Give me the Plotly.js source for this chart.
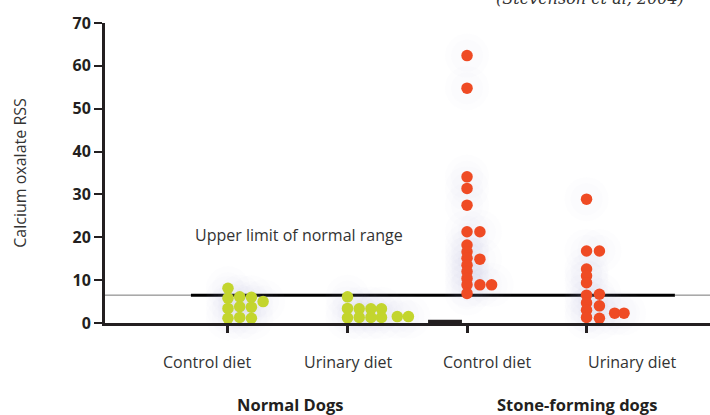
<!DOCTYPE html>
<html>
<head>
<meta charset="utf-8">
<script src="https://cdn.plot.ly/plotly-3.0.1.min.js"></script>
<style>html,body{margin:0;padding:0;background:#fff;}#chart{width:710px;height:415px;}</style>
</head>
<body>
<div id="chart"></div>
<script>
// Category positions (x axis units) and labels
const categoryPos = [1, 2, 3, 4];
const categoryLabels = ["Control diet", "Urinary diet", "Control diet", "Urinary diet"];
const groupLabels = ["Normal Dogs", "Stone-forming dogs"];
const upperLimit = 6.5;

// Normal dogs - control diet
const nControlVals = [8.1, 5.8, 3.4, 1.1, 6.1, 3.8, 1.3, 6.0, 3.7, 1.1, 5.0];
const nControlCols = [0, 0, 0, 0, 1, 1, 1, 2, 2, 2, 3];
// Normal dogs - urinary diet
const nUrinaryVals = [6.1, 3.4, 1.2, 3.3, 1.3, 3.3, 1.3, 3.3, 1.3, 1.5, 1.5];
const nUrinaryCols = [0, 0, 0, 1, 1, 2, 2, 2.9, 2.9, 4.25, 5.2];
// Stone-forming dogs - control diet
const sControlVals = [62.4, 54.8, 34.1, 31.4, 27.5, 21.3, 18.2, 16.6, 15.1, 13.5, 12.0, 10.4, 8.9, 6.9, 21.3, 14.9, 8.9, 8.9];
const sControlCols = [0, 0, 0, 0, 0, 0, 0, 0, 0, 0, 0, 0, 0, 0, 1.1, 1.1, 1.1, 2.1];
// Stone-forming dogs - urinary diet
const sUrinaryVals = [28.9, 16.8, 12.6, 11.0, 9.4, 6.5, 4.7, 3.0, 1.3, 16.8, 6.7, 4.0, 1.1, 2.3, 2.3];
const sUrinaryCols = [0, 0, 0, 0, 0, 0, 0, 0, 0, 1.1, 1.1, 1.1, 1.1, 2.4, 3.2];

const colStep = 0.098;
const green = "#c3d52e";
const red = "#ef4b24";
const dark = "#231f20";

function xs(catIdx, cols) { return cols.map(c => categoryPos[catIdx] + c * colStep); }

const groups = [
  {vals: nControlVals, cols: nControlCols, cat: 0, color: green},
  {vals: nUrinaryVals, cols: nUrinaryCols, cat: 1, color: green},
  {vals: sControlVals, cols: sControlCols, cat: 2, color: red},
  {vals: sUrinaryVals, cols: sUrinaryCols, cat: 3, color: red}
];

const traces = [];
// soft halo behind dots
[44, 32].forEach(sz => {
  groups.forEach(g => {
    traces.push({
      type: "scatter", mode: "markers", x: xs(g.cat, g.cols), y: g.vals,
      marker: {size: sz, color: "rgba(175,185,225,0.025)", line: {width: 0}},
      hoverinfo: "skip", showlegend: false, cliponaxis: false
    });
  });
});
groups.forEach(g => {
  traces.push({
    type: "scatter", mode: "markers", x: xs(g.cat, g.cols), y: g.vals,
    marker: {size: 11.5, color: g.color, line: {width: 0}},
    showlegend: false, cliponaxis: false
  });
});

const lightFont = {family: "'Open Sans', sans-serif", size: 16, color: "#333333"};
const boldFont = {family: "'Open Sans', sans-serif", size: 16.5, color: dark, weight: "bold"};

const annotations = [];
const catLabelPaperX = [0.168, 0.402, 0.631, 0.871];
categoryLabels.forEach((t, i) => {
  annotations.push({xref: "paper", yref: "paper", x: catLabelPaperX[i], y: -0.13, text: t,
    showarrow: false, xanchor: "center", yanchor: "middle", font: lightFont});
});
const groupLabelPaperX = [0.306, 0.780];
groupLabels.forEach((t, i) => {
  annotations.push({xref: "paper", yref: "paper", x: groupLabelPaperX[i], y: -0.273, text: t,
    showarrow: false, xanchor: "center", yanchor: "middle", font: boldFont});
});
annotations.push({xref: "paper", yref: "paper", x: 0.145, y: 0.293, text: "Upper limit of normal range",
  showarrow: false, xanchor: "left", yanchor: "middle", font: lightFont});
annotations.push({xref: "paper", yref: "paper", x: 0.96, y: 1.045, text: "(Stevenson et al, 2004)",
  showarrow: false, xanchor: "right", yanchor: "bottom",
  font: {family: "'DejaVu Serif', 'Liberation Serif', serif", size: 16, color: "#333333", style: "italic"}});

const layout = {
  width: 710, height: 415,
  margin: {l: 105, r: 0, t: 23, b: 92},
  paper_bgcolor: "#ffffff", plot_bgcolor: "#ffffff",
  showlegend: false,
  xaxis: {
    range: [-0.029, 5.033], showgrid: false, zeroline: false,
    showline: true, linewidth: 3, linecolor: dark,
    tickvals: categoryPos, ticktext: ["", "", "", ""], ticks: "outside", ticklen: 7, tickwidth: 3, tickcolor: dark,
    fixedrange: true
  },
  yaxis: {
    range: [0, 70], dtick: 10, tick0: 0, showgrid: false, zeroline: false,
    showline: true, linewidth: 3, linecolor: dark,
    ticks: "outside", ticklen: 8, tickwidth: 2, tickcolor: dark,
    tickfont: {family: "'Open Sans', sans-serif", size: 16, color: dark, weight: "bold"},
    title: {text: "Calcium oxalate RSS", font: lightFont, standoff: 42},
    fixedrange: true
  },
  shapes: [
    {type: "line", layer: "below", xref: "paper", yref: "y", x0: 0, x1: 0.142, y0: upperLimit, y1: upperLimit, line: {color: "#777777", width: 1}},
    {type: "line", layer: "below", xref: "paper", yref: "y", x0: 0.142, x1: 0.942, y0: upperLimit, y1: upperLimit, line: {color: "#000000", width: 3}},
    {type: "line", layer: "below", xref: "paper", yref: "y", x0: 0.942, x1: 1, y0: upperLimit, y1: upperLimit, line: {color: "#777777", width: 1}},
    {type: "line", layer: "above", xref: "paper", yref: "paper", x0: 0.534, x1: 0.590, y0: 0.005, y1: 0.005, line: {color: dark, width: 3.5}}
  ],
  annotations: annotations
};

Plotly.newPlot("chart", traces, layout, {staticPlot: true, displayModeBar: false});
</script>
</body>
</html>
